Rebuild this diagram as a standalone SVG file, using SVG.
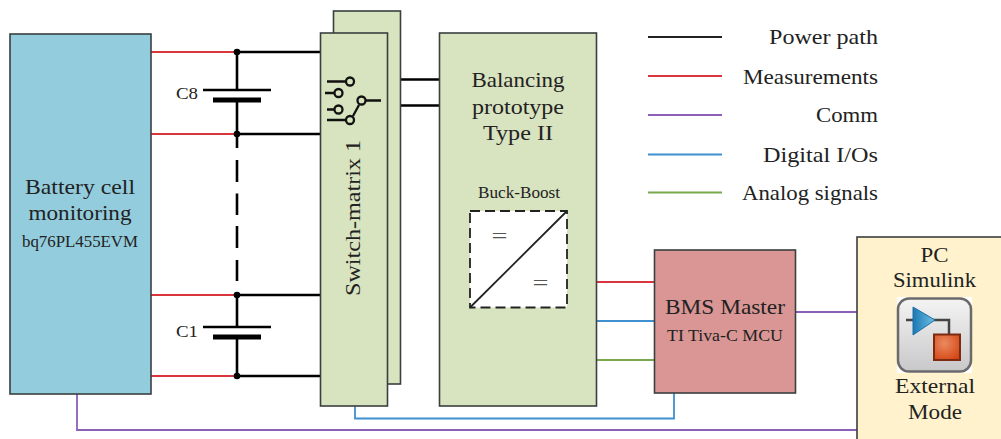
<svg xmlns="http://www.w3.org/2000/svg" width="1001" height="439" viewBox="0 0 1001 439">
<defs>
<style>
text{font-family:"Liberation Serif","DejaVu Serif",serif;fill:#222;text-anchor:middle}
.t{font-size:22px}
.s{font-size:16px}
.e{text-anchor:end}
.box{stroke:#3a3f3f;stroke-width:1.6}
.g{fill:#d8e3bf}
.pw{stroke:#000;stroke-width:2.6;fill:none}
.th{stroke:#222;stroke-width:1.8;fill:none}
.r{stroke:#d8363c;stroke-width:1.8;fill:none}
.p{stroke:#8e5fb8;stroke-width:1.8;fill:none}
.b{stroke:#3f90d0;stroke-width:1.8;fill:none}
.v{stroke:#78a84c;stroke-width:1.8;fill:none}
.sw{fill:none;stroke:#111;stroke-width:2.300}
.sy{fill:#555}
</style>
<linearGradient id="ic" x1="0" y1="0" x2="0" y2="1"><stop offset="0" stop-color="#f4f4f4"/><stop offset="1" stop-color="#c8c8ca"/></linearGradient>
<linearGradient id="tri" x1="0" y1="0" x2="1" y2="0"><stop offset="0" stop-color="#1c78b4"/><stop offset="1" stop-color="#6fc0e4"/></linearGradient>
<radialGradient id="sq" cx="0.4" cy="0.35" r="0.8"><stop offset="0" stop-color="#ea8a60"/><stop offset="1" stop-color="#d2400e"/></radialGradient>
</defs>

<g id="connectors">
<path class="r" d="M151 52H237M151 134H237M151 295H237M151 376H237"/>
<path class="pw" d="M237 52H321M237 134H321M237 295H321M237 376H321"/>
<path class="pw" d="M237 52V90M237 100V148M237 160V182M237 193.500V215M237 226V248M237 260V281M237 295V327M237 337V376"/>
<path class="pw" d="M203 90H271M203 327H271"/>
<path d="M213 97.500H261V102.500H213ZM213 334.500H261V339.500H213Z" fill="#000"/>
<circle cx="237" cy="52" r="3.300"/><circle cx="237" cy="134" r="3.300"/><circle cx="237" cy="295" r="3.300"/><circle cx="237" cy="376" r="3.300"/>
<path class="pw" d="M400 79.500H440M387 105.500H440"/>
<path class="r" d="M596 282H655"/>
<path class="b" d="M596 321H655"/>
<path class="v" d="M596 360H655"/>
<path class="p" d="M795 312H857"/>
<path class="b" d="M355 406V418.500H674V393"/>
<path class="p" d="M77 394V430H857"/>
<path class="th" d="M648 37H722"/>
<path class="r" d="M648 76H722"/>
<path class="p" d="M648 115H722"/>
<path class="b" d="M648 154.500H722"/>
<path class="v" d="M648 192.500H722"/>
</g>

<g id="battery-monitor">
<rect class="box" x="10" y="34" width="141" height="360" fill="#93cddd"/>
<text class="t" x="80" y="194" textLength="110" lengthAdjust="spacingAndGlyphs">Battery cell</text>
<text class="t" x="80" y="220" textLength="103" lengthAdjust="spacingAndGlyphs">monitoring</text>
<text class="s" x="80" y="246.500" textLength="116" lengthAdjust="spacingAndGlyphs">bq76PL455EVM</text>
</g>

<g id="c8"><text class="s" x="187" y="99" textLength="22" lengthAdjust="spacingAndGlyphs">C8</text></g>
<g id="c1"><text class="s" x="187" y="337" textLength="22" lengthAdjust="spacingAndGlyphs">C1</text></g>

<g id="switch-matrix-back"><rect class="box g" x="333.500" y="11" width="67" height="373"/></g>
<g id="switch-matrix">
<rect class="box g" x="320.500" y="33" width="67" height="373"/>
<text class="t" transform="translate(360 218) rotate(-90)" textLength="156" lengthAdjust="spacingAndGlyphs">Switch-matrix 1</text>
<path class="sw" d="M327 81.500H345M325 93H334M327 109.500H334M327 120H345M359 105L353 116M366 100.500H381"/>
<circle class="sw" cx="350" cy="81.500" r="4"/>
<circle class="sw" cx="338.500" cy="93" r="4"/>
<circle class="sw" cx="338.500" cy="109.500" r="4"/>
<circle class="sw" cx="361.500" cy="100.500" r="4"/>
<circle class="sw" cx="350" cy="120" r="4"/>
</g>

<g id="balancing">
<rect class="box g" x="439.500" y="33" width="157" height="373"/>
<text class="t" x="518" y="87" textLength="93" lengthAdjust="spacingAndGlyphs">Balancing</text>
<text class="t" x="518" y="114" textLength="92" lengthAdjust="spacingAndGlyphs">prototype</text>
<text class="t" x="518" y="140" textLength="70" lengthAdjust="spacingAndGlyphs">Type II</text>
<text class="s" x="519" y="198" textLength="82" lengthAdjust="spacingAndGlyphs">Buck-Boost</text>
<rect x="470" y="211" width="97" height="96.500" fill="#fff" stroke="#222" stroke-width="1.800" stroke-dasharray="10 5"/>
<path class="th" d="M470 307.500L567 211"/>
<text class="t sy" x="499.500" y="243" textLength="16" lengthAdjust="spacingAndGlyphs">=</text>
<text class="t sy" x="540.500" y="290" textLength="16" lengthAdjust="spacingAndGlyphs">=</text>
</g>

<g id="bms-master">
<rect class="box" x="654.500" y="250" width="141" height="143" fill="#d99694"/>
<text class="t" x="725" y="314" textLength="120" lengthAdjust="spacingAndGlyphs">BMS Master</text>
<text class="s" x="725" y="340.500" textLength="116" lengthAdjust="spacingAndGlyphs">TI Tiva-C MCU</text>
</g>

<g id="legend">
<text class="t" x="823.500" y="44" textLength="109" lengthAdjust="spacingAndGlyphs">Power path</text>
<text class="t" x="810.500" y="84" textLength="135" lengthAdjust="spacingAndGlyphs">Measurements</text>
<text class="t" x="847" y="122" textLength="62" lengthAdjust="spacingAndGlyphs">Comm</text>
<text class="t" x="820.500" y="161.500" textLength="115" lengthAdjust="spacingAndGlyphs">Digital I/Os</text>
<text class="t" x="810" y="199.500" textLength="136" lengthAdjust="spacingAndGlyphs">Analog signals</text>
</g>

<g id="pc">
<rect class="box" x="857" y="237" width="150" height="210" fill="#fff2cc"/>
<text class="t" x="934.500" y="262" textLength="28" lengthAdjust="spacingAndGlyphs">PC</text>
<text class="t" x="934.500" y="287" textLength="83" lengthAdjust="spacingAndGlyphs">Simulink</text>
<rect x="897" y="297" width="75" height="76" fill="#fff"/>
<rect x="898" y="298.500" width="73" height="73" rx="11" fill="url(#ic)" stroke="#6a6a6a" stroke-width="2.500"/>
<path d="M906 320H949V334" fill="none" stroke="#444" stroke-width="2.500"/>
<path d="M913 307V335L935 320Z" fill="url(#tri)" stroke="#1a6ea8" stroke-width="1"/>
<rect x="934" y="334.500" width="26" height="25.500" fill="url(#sq)" stroke="#7d2a10" stroke-width="2"/>
<text class="t" x="935" y="393" textLength="80" lengthAdjust="spacingAndGlyphs">External</text>
<text class="t" x="935" y="419" textLength="54" lengthAdjust="spacingAndGlyphs">Mode</text>
</g>
</svg>
